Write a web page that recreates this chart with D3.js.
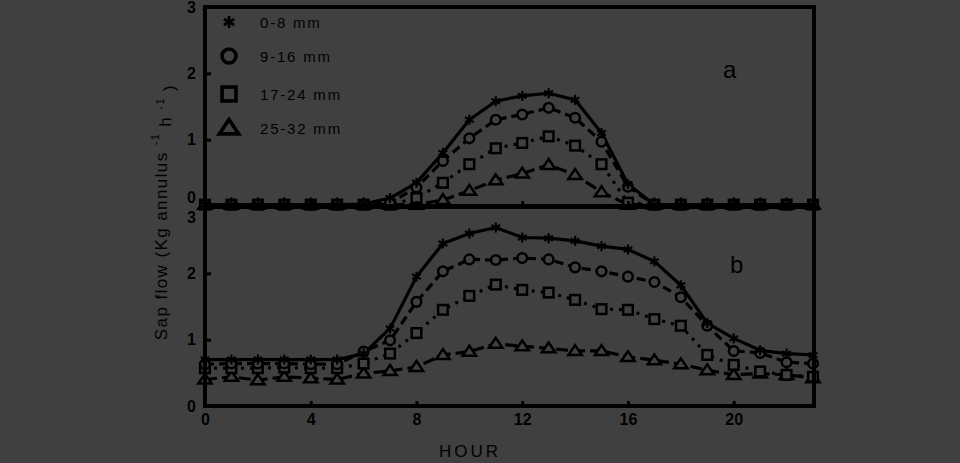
<!DOCTYPE html>
<html>
<head>
<meta charset="utf-8">
<script src="https://cdn.jsdelivr.net/npm/d3@7"></script>
<style>
  html, body { margin: 0; padding: 0; background: #404040; }
  svg { display: block; }
</style>
</head>
<body>
<svg id="chart" width="960" height="463"></svg>
<script>
// ---------- data ----------
const hours = d3.range(0, 24);
const seriesNames = ["0-8 mm", "9-16 mm", "17-24 mm", "25-32 mm"];
const seriesSymbols = ["asterisk", "circle", "square", "triangle"];
const yTicks = [0, 1, 2, 3];
const xTicks = [0, 4, 8, 12, 16, 20];
const panelLabels = ["a", "b"];
const xTitle = "HOUR";

// panel a
const a_0_8   = [0.02,0.02,0.02,0.02,0.02,0.02,0.03,0.12,0.35,0.80,1.30,1.58,1.66,1.70,1.60,1.10,0.33,0.02,0.02,0.02,0.02,0.02,0.02,0.02];
const a_9_16  = [0.02,0.02,0.02,0.02,0.02,0.02,0.02,0.05,0.28,0.68,1.02,1.30,1.38,1.48,1.33,0.97,0.29,0.02,0.02,0.02,0.02,0.02,0.02,0.02];
const a_17_24 = [0.02,0.02,0.02,0.02,0.02,0.02,0.02,0.02,0.12,0.35,0.63,0.87,0.95,1.05,0.91,0.63,0.05,0.02,0.02,0.02,0.02,0.02,0.02,0.02];
const a_25_32 = [0.02,0.02,0.02,0.02,0.02,0.02,0.02,0.02,0.02,0.09,0.23,0.39,0.49,0.62,0.47,0.21,0.02,0.02,0.02,0.02,0.02,0.02,0.02,0.02];
// panel b
const b_0_8   = [0.70,0.70,0.70,0.70,0.70,0.70,0.79,1.17,1.95,2.45,2.60,2.69,2.54,2.53,2.49,2.41,2.36,2.18,1.82,1.25,1.02,0.84,0.79,0.77];
const b_9_16  = [0.63,0.64,0.64,0.64,0.63,0.63,0.82,0.99,1.57,2.03,2.21,2.20,2.23,2.21,2.09,2.03,1.95,1.87,1.64,1.21,0.83,0.80,0.66,0.64];
const b_17_24 = [0.57,0.57,0.57,0.58,0.57,0.57,0.64,0.79,1.10,1.45,1.66,1.83,1.75,1.71,1.60,1.46,1.45,1.31,1.21,0.77,0.62,0.52,0.47,0.44];
const b_25_32 = [0.40,0.44,0.39,0.44,0.42,0.40,0.49,0.53,0.59,0.77,0.82,0.94,0.90,0.87,0.83,0.83,0.74,0.69,0.63,0.54,0.47,0.49,0.47,0.42];

const panelA = [a_0_8, a_9_16, a_17_24, a_25_32];
const panelB = [b_0_8, b_9_16, b_17_24, b_25_32];

// ---------- style ----------
const BG = "#404040";
const INK = "#000";
const dashes = [null, "9,5", "3,6", "12,5"];
const FONT = "'Liberation Sans', Arial, Helvetica, sans-serif";

const svg = d3.select("#chart");
svg.append("rect").attr("width", 960).attr("height", 463).attr("fill", BG);

const x = d3.scaleLinear().domain([0, 23]).range([205, 813]);
const yA = d3.scaleLinear().domain([0, 3]).range([206, 7]);
const yB = d3.scaleLinear().domain([0, 3]).range([406, 207]);

function drawSymbol(g, type, cx, cy, s) {
  if (type === "asterisk") {
    const r = 5 * s;
    for (let k = 0; k < 3; k++) {
      const ang = Math.PI / 2 + k * Math.PI / 3;
      g.append("line")
        .attr("x1", cx - r * Math.cos(ang)).attr("y1", cy - r * Math.sin(ang))
        .attr("x2", cx + r * Math.cos(ang)).attr("y2", cy + r * Math.sin(ang))
        .attr("stroke", INK).attr("stroke-width", 2.2 * s);
    }
  } else if (type === "circle") {
    g.append("circle").attr("cx", cx).attr("cy", cy).attr("r", 4.8 * s)
      .attr("fill", BG).attr("stroke", INK).attr("stroke-width", 2.5 * s);
  } else if (type === "square") {
    const h = 4.8 * s;
    g.append("rect").attr("x", cx - h).attr("y", cy - h).attr("width", 2 * h).attr("height", 2 * h)
      .attr("fill", BG).attr("stroke", INK).attr("stroke-width", 2.5 * s);
  } else if (type === "triangle") {
    const h = 5.8 * s;
    g.append("path")
      .attr("d", `M${cx},${cy - h}L${cx + h * 1.15},${cy + h * 0.7}L${cx - h * 1.15},${cy + h * 0.7}Z`)
      .attr("fill", BG).attr("stroke", INK).attr("stroke-width", 2.5 * s).attr("stroke-linejoin", "miter");
  }
}

function drawPanel(data, y, label, showXLabels, labelPos) {
  const g = svg.append("g");
  for (let si = data.length - 1; si >= 0; si--) {
    const vals = data[si];
    const line = d3.line().x((d, i) => x(hours[i])).y(d => y(d));
    g.append("path").datum(vals)
      .attr("d", line)
      .attr("fill", "none").attr("stroke", INK)
      .attr("stroke-width", 3.2)
      .attr("stroke-dasharray", dashes[si])
      .attr("stroke-linejoin", "round");
  }
  for (let si = data.length - 1; si >= 0; si--) {
    const vals = data[si];
    vals.forEach((v, i) => drawSymbol(g, seriesSymbols[si], x(hours[i]), y(v), 1));
  }
  // y axis
  const ya = g.append("g").attr("transform", `translate(${x.range()[0]},0)`)
    .call(d3.axisLeft(y).tickValues(yTicks).tickFormat(d3.format("d")).tickSize(-6).tickPadding(9));
  ya.select(".domain").remove();
  ya.selectAll(".tick line").attr("stroke", INK).attr("stroke-width", 3);
  ya.selectAll("text").attr("fill", INK).style("font", `bold 16px ${FONT}`);
  // x axis
  const xa = g.append("g").attr("transform", `translate(0,${y.range()[0]})`)
    .call(d3.axisBottom(x).tickValues(xTicks).tickSize(-5).tickPadding(8)
      .tickFormat(showXLabels ? d3.format("d") : () => ""));
  xa.select(".domain").remove();
  xa.selectAll(".tick line").attr("stroke", INK).attr("stroke-width", 3);
  xa.selectAll("text").attr("fill", INK).style("font", `bold 16px ${FONT}`);
  // frame
  g.append("rect")
    .attr("x", x.range()[0]).attr("y", y.range()[1])
    .attr("width", x.range()[1] - x.range()[0] + 1)
    .attr("height", y.range()[0] - y.range()[1])
    .attr("fill", "none").attr("stroke", INK).attr("stroke-width", 4);
  g.append("text").attr("x", labelPos[0]).attr("y", labelPos[1])
    .attr("fill", INK).style("font", `24px ${FONT}`).text(label);
  return ya;
}

const yaA = drawPanel(panelA, yA, panelLabels[0], false, [723, 78]);
const yaB = drawPanel(panelB, yB, panelLabels[1], true, [730, 273]);
// nudge the crowded labels at the shared border
yaA.selectAll(".tick").filter(d => d === 0).select("text").attr("dy", "-0.2em");
yaB.selectAll(".tick").filter(d => d === 3).select("text").attr("dy", "0.95em");

// legend
const legY = [22, 56, 94, 128];
const leg = svg.append("g");
seriesNames.forEach((name, i) => {
  drawSymbol(leg, seriesSymbols[i], 229, legY[i], i === 0 ? 1.2 : 1.45);
  leg.append("text").attr("x", 260).attr("y", legY[i] + 6)
    .attr("fill", INK).style("font", `15px ${FONT}`).style("letter-spacing", "1.8px")
    .text(name);
});

// x title
svg.append("text").attr("x", 439).attr("y", 457)
  .attr("fill", INK).style("font", `17px ${FONT}`).style("letter-spacing", "3px")
  .text(xTitle);

// y title
const yt = svg.append("text")
  .attr("transform", "translate(167,212) rotate(-90)")
  .attr("text-anchor", "middle")
  .attr("fill", INK).style("font", `17px ${FONT}`).style("letter-spacing", "1.4px");
yt.append("tspan").text("Sap flow (Kg annulus ");
yt.append("tspan").attr("dy", "-0.7em").style("font-size", "11px").text("-1");
yt.append("tspan").attr("dy", "0.7em").text(" h ");
yt.append("tspan").attr("dy", "-0.7em").style("font-size", "11px").text("-1");
yt.append("tspan").attr("dy", "0.7em").text(" )");
</script>
</body>
</html>
